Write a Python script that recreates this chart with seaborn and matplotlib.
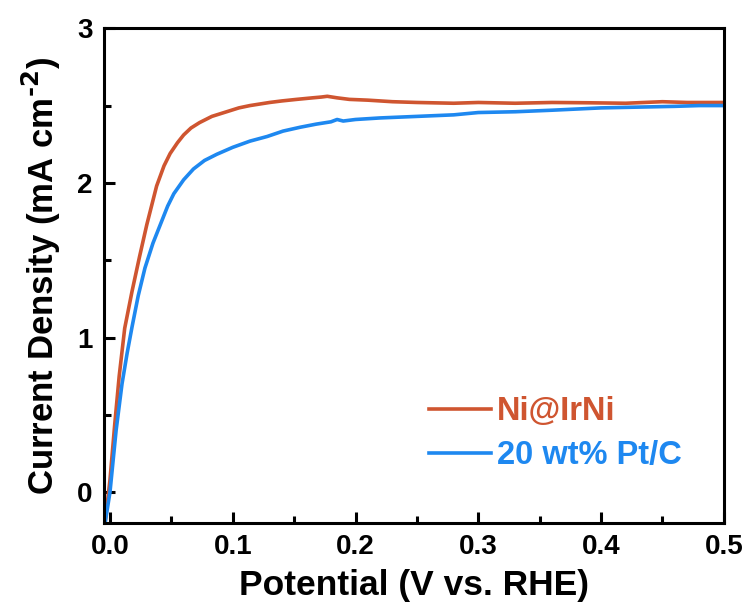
import numpy as np
import pandas as pd
import matplotlib.pyplot as plt
import seaborn as sb
from matplotlib.ticker import MultipleLocator

# Data
ni_x = [-0.004, 0.0, 0.004, 0.0075, 0.012, 0.018, 0.024, 0.030, 0.038, 0.044,
        0.049, 0.055, 0.060, 0.066, 0.073, 0.083, 0.095, 0.105, 0.114, 0.13,
        0.14, 0.152, 0.165, 0.172, 0.177, 0.185, 0.195, 0.21, 0.23, 0.25, 0.28,
        0.3, 0.33, 0.36, 0.39, 0.42, 0.45, 0.47, 0.5]
ni_y = [-0.2, 0.08, 0.45, 0.75, 1.06, 1.30, 1.52, 1.73, 1.98, 2.11,
        2.19, 2.26, 2.31, 2.355, 2.39, 2.43, 2.46, 2.485, 2.50, 2.52,
        2.53, 2.54, 2.55, 2.555, 2.56, 2.55, 2.54, 2.535, 2.525, 2.52, 2.515,
        2.52, 2.515, 2.52, 2.518, 2.515, 2.525, 2.52, 2.52]

pt_x = [-0.004, 0.0, 0.005, 0.0098, 0.014, 0.018, 0.023, 0.0285, 0.035, 0.042,
        0.047, 0.052, 0.060, 0.068, 0.077, 0.087, 0.1, 0.114, 0.128, 0.141,
        0.155, 0.168, 0.18, 0.185, 0.19, 0.2, 0.22, 0.25, 0.28, 0.3, 0.33,
        0.36, 0.4, 0.43, 0.46, 0.48, 0.5]
pt_y = [-0.2, 0.0, 0.40, 0.70, 0.90, 1.07, 1.27, 1.45, 1.61, 1.75,
        1.85, 1.93, 2.02, 2.09, 2.145, 2.185, 2.23, 2.27, 2.30, 2.335,
        2.36, 2.38, 2.395, 2.41, 2.40, 2.41, 2.42, 2.43, 2.44, 2.455, 2.46,
        2.47, 2.485, 2.49, 2.495, 2.50, 2.50]

red = '#CF5530'
blue = '#1E88F0'

df = pd.concat([
    pd.DataFrame({'x': ni_x, 'y': ni_y, 'sample': 'Ni@IrNi'}),
    pd.DataFrame({'x': pt_x, 'y': pt_y, 'sample': '20 wt% Pt/C'}),
])

plt.rcParams['font.family'] = ['Liberation Sans', 'DejaVu Sans']
plt.rcParams['font.weight'] = 'bold'
plt.rcParams['mathtext.default'] = 'bf'

fig, ax = plt.subplots(figsize=(7.47, 6.14), dpi=100)
sb.lineplot(data=df, x='x', y='y', hue='sample', sort=False,
            palette=[red, blue], linewidth=2.6, ax=ax)

ax.set_xlim(-0.005, 0.5)
ax.set_ylim(-0.2, 3)
ax.xaxis.set_minor_locator(MultipleLocator(0.05))
ax.yaxis.set_major_locator(MultipleLocator(1))
ax.yaxis.set_minor_locator(MultipleLocator(0.5))
ax.set_xticks([0, 0.1, 0.2, 0.3, 0.4, 0.5])
ax.set_xticklabels(['0.0', '0.1', '0.2', '0.3', '0.4', '0.5'])
ax.tick_params(which='major', direction='in', length=8, width=2.2, labelsize=20, pad=8)
ax.tick_params(which='minor', direction='in', length=5, width=2.2)
for lab in ax.get_xticklabels() + ax.get_yticklabels():
    lab.set_fontweight('bold')
for s in ax.spines.values():
    s.set_linewidth(2.2)

ax.set_xlabel('Potential (V vs. RHE)', fontsize=25.5, fontweight='bold', labelpad=6)
ax.set_ylabel('Current Density (mA cm$^{\\text{-2}}$)', fontsize=25, fontweight='bold', labelpad=10)

leg = ax.legend(loc='lower right', bbox_to_anchor=(0.98, 0.045), frameon=False,
                fontsize=23.5, handlelength=1.9, handletextpad=0.2, labelspacing=0.4)
for t, c in zip(leg.get_texts(), [red, blue]):
    t.set_color(c)
    t.set_fontweight('bold')
for h in leg.get_lines():
    h.set_linewidth(2.6)

plt.subplots_adjust(left=0.139, right=0.969, bottom=0.148, top=0.954)
plt.savefig('out.png', dpi=100)
